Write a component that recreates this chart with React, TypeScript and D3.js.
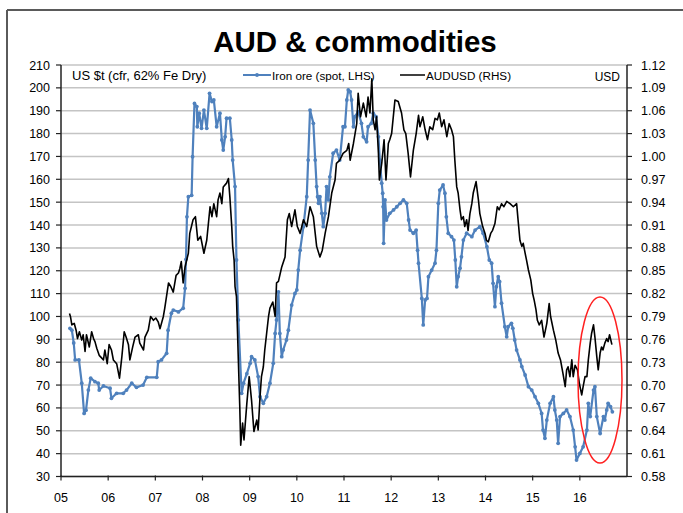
import React from "react";
import * as d3 from "d3";

const title = "AUD & commodities";
const xTickLabels = ["05", "06", "07", "08", "09", "10", "11", "12", "13", "14", "15", "16"];
const leftTicks = [30, 40, 50, 60, 70, 80, 90, 100, 110, 120, 130, 140, 150, 160, 170, 180, 190, 200, 210];
const rightTicks = [0.58, 0.61, 0.64, 0.67, 0.70, 0.73, 0.76, 0.79, 0.82, 0.85, 0.88, 0.91, 0.94, 0.97, 1.0, 1.03, 1.06, 1.09, 1.12];

const ironDates = [
  2005.19, 2005.23, 2005.27, 2005.30, 2005.38, 2005.44, 2005.49, 2005.53, 2005.58, 2005.63, 2005.72, 2005.79, 2005.81, 2005.90,
  2006.04, 2006.07, 2006.18, 2006.32, 2006.39, 2006.50, 2006.60, 2006.74, 2006.82, 2007.03, 2007.06, 2007.13, 2007.24, 2007.27,
  2007.34, 2007.38, 2007.49, 2007.59, 2007.63, 2007.65, 2007.67, 2007.70, 2007.77, 2007.79, 2007.83, 2007.88, 2007.89, 2007.93,
  2007.98, 2008.03, 2008.09, 2008.15, 2008.20, 2008.24, 2008.30, 2008.37, 2008.41, 2008.44, 2008.48, 2008.51, 2008.58, 2008.62,
  2008.64, 2008.69, 2008.72, 2008.76, 2008.83, 2008.87, 2008.94, 2009.01, 2009.04, 2009.11, 2009.18, 2009.22, 2009.29, 2009.36,
  2009.43, 2009.50, 2009.54, 2009.57, 2009.61, 2009.64, 2009.68, 2009.71, 2009.78, 2009.82, 2009.89, 2009.96, 2010.00, 2010.03,
  2010.07, 2010.14, 2010.21, 2010.24, 2010.28, 2010.35, 2010.39, 2010.42, 2010.44, 2010.46, 2010.49, 2010.53, 2010.56, 2010.60,
  2010.63, 2010.67, 2010.70, 2010.77, 2010.84, 2010.91, 2010.98, 2011.02, 2011.06, 2011.09, 2011.13, 2011.16, 2011.20, 2011.23,
  2011.30, 2011.37, 2011.41, 2011.48, 2011.51, 2011.58, 2011.62, 2011.68, 2011.73, 2011.76, 2011.80, 2011.82, 2011.83, 2011.84,
  2011.87, 2011.90, 2011.97, 2012.05, 2012.12, 2012.19, 2012.26, 2012.33, 2012.37, 2012.40, 2012.47, 2012.53, 2012.56, 2012.58,
  2012.65, 2012.68, 2012.72, 2012.76, 2012.79, 2012.86, 2012.93, 2012.96, 2013.00, 2013.03, 2013.10, 2013.14, 2013.17, 2013.21,
  2013.28, 2013.33, 2013.36, 2013.39, 2013.42, 2013.46, 2013.49, 2013.53, 2013.60, 2013.71, 2013.78, 2013.88, 2013.95, 2014.03,
  2014.08, 2014.13, 2014.16, 2014.20, 2014.23, 2014.27, 2014.30, 2014.34, 2014.41, 2014.45, 2014.48, 2014.55, 2014.58, 2014.62,
  2014.66, 2014.73, 2014.77, 2014.84, 2014.91, 2014.98, 2015.05, 2015.12, 2015.19, 2015.22, 2015.26, 2015.30, 2015.37, 2015.44,
  2015.47, 2015.51, 2015.54, 2015.58, 2015.65, 2015.72, 2015.79, 2015.86, 2015.90, 2015.93, 2016.00, 2016.07, 2016.15, 2016.18,
  2016.22, 2016.29, 2016.32, 2016.36, 2016.43, 2016.50, 2016.53, 2016.57, 2016.60, 2016.65, 2016.69,
];
const ironValues = [
  94.8, 94, 88.4, 81, 81, 70.8, 57.6, 59, 67.8, 73, 71.5, 70.8, 67.8, 69.6,
  68.6, 64.2, 66.4, 66.4, 67.8, 70.8, 69, 70, 73.4, 73.4, 80.2, 81, 83.9, 94,
  101.4, 102.8, 102, 103.6, 112.3, 125, 143.6, 152.4, 153, 169.9, 193.2, 191.8, 183, 188.9,
  182.3, 190.3, 182.3, 197.6, 194, 194.7, 183, 188.9, 177.2, 172.8, 178.6, 186.7, 186.7, 177.2,
  168.4, 156.8, 124.7, 98.5, 66.4, 70.8, 75, 79.5, 82.4, 81, 73.7, 64.9, 62, 64.9,
  70.8, 79.5, 92.6, 98.5, 110.8, 92.6, 82.4, 85.3, 89.7, 94, 105, 110.1, 111.6, 120.3,
  129, 139.3, 152.4, 168.4, 190.3, 184.5, 168.4, 156.8, 152.4, 149.5, 152.4, 145.1, 139.3, 145.1,
  156.8, 151, 161.1, 171.4, 172.8, 168.4, 183, 183, 194.7, 199.1, 198.3, 194.7, 183, 187.4,
  189.6, 184.5, 178.6, 176.4, 183, 184.5, 188.9, 187.4, 178.6, 168.4, 158.3, 153.9, 148, 132,
  151, 142.2, 145.1, 146.6, 148, 149.5, 151, 149.5, 142.2, 137.8, 136.4, 137.8, 129, 123.3,
  107.9, 96.3, 107.2, 107.9, 117.4, 120.3, 123.3, 129, 149.5, 155.3, 157.5, 153.9, 143.6, 136.4,
  134.9, 133.4, 124.7, 113, 117.4, 121.1, 126.1, 133.4, 136.4, 134.9, 137.8, 139.3, 136.4, 130.5,
  124.7, 123.3, 114.5, 104.3, 113, 117.4, 115.2, 105.8, 95.5, 91.1, 95.5, 97, 94.8, 89.7,
  85.3, 81, 78.1, 74.4, 69.3, 67.8, 64.9, 62, 57.6, 50.3, 46.7, 54.7, 62, 64.9,
  59.1, 54.7, 44.5, 56.2, 57.6, 59.1, 56.2, 50.3, 43, 37.2, 40.1, 43, 50.3, 62,
  56.2, 67.8, 69.3, 56.2, 48.8, 56.2, 54.7, 59.1, 62, 60.6, 58.3,
];

const audDates = [
  2005.18, 2005.20, 2005.23, 2005.28, 2005.32, 2005.35, 2005.39, 2005.44, 2005.47, 2005.51, 2005.54, 2005.60, 2005.65, 2005.69,
  2005.72, 2005.76, 2005.81, 2005.84, 2005.90, 2005.93, 2005.98, 2006.02, 2006.07, 2006.11, 2006.18, 2006.24, 2006.29, 2006.34,
  2006.38, 2006.43, 2006.46, 2006.52, 2006.57, 2006.64, 2006.67, 2006.75, 2006.78, 2006.85, 2006.90, 2006.96, 2007.01, 2007.06,
  2007.10, 2007.17, 2007.20, 2007.28, 2007.33, 2007.38, 2007.44, 2007.49, 2007.52, 2007.55, 2007.59, 2007.63, 2007.70, 2007.73,
  2007.80, 2007.85, 2007.90, 2007.96, 2008.03, 2008.09, 2008.16, 2008.20, 2008.24, 2008.30, 2008.33, 2008.37, 2008.41, 2008.44,
  2008.51, 2008.55, 2008.58, 2008.62, 2008.64, 2008.67, 2008.69, 2008.72, 2008.76, 2008.79, 2008.81, 2008.85, 2008.88, 2008.94,
  2008.99, 2009.04, 2009.09, 2009.15, 2009.18, 2009.22, 2009.25, 2009.29, 2009.32, 2009.36, 2009.40, 2009.43, 2009.49, 2009.54,
  2009.57, 2009.61, 2009.68, 2009.75, 2009.80, 2009.84, 2009.89, 2009.96, 2010.01, 2010.07, 2010.14, 2010.21, 2010.28, 2010.35,
  2010.42, 2010.49, 2010.54, 2010.60, 2010.67, 2010.74, 2010.81, 2010.84, 2010.91, 2010.98, 2011.06, 2011.10, 2011.13, 2011.20,
  2011.27, 2011.30, 2011.35, 2011.41, 2011.47, 2011.51, 2011.55, 2011.59, 2011.62, 2011.66, 2011.69, 2011.73, 2011.75, 2011.80,
  2011.85, 2011.89, 2011.94, 2011.97, 2012.01, 2012.08, 2012.15, 2012.22, 2012.27, 2012.31, 2012.36, 2012.41, 2012.47, 2012.53,
  2012.58, 2012.61, 2012.67, 2012.72, 2012.77, 2012.82, 2012.88, 2012.93, 2012.98, 2013.02, 2013.07, 2013.12, 2013.18, 2013.23,
  2013.28, 2013.32, 2013.35, 2013.39, 2013.42, 2013.46, 2013.49, 2013.53, 2013.56, 2013.60, 2013.63, 2013.67, 2013.71, 2013.74,
  2013.80, 2013.85, 2013.88, 2013.94, 2013.99, 2014.02, 2014.06, 2014.11, 2014.15, 2014.20, 2014.25, 2014.29, 2014.34, 2014.39,
  2014.45, 2014.52, 2014.59, 2014.66, 2014.69, 2014.73, 2014.77, 2014.80, 2014.84, 2014.87, 2014.91, 2014.96, 2015.00, 2015.03,
  2015.07, 2015.10, 2015.14, 2015.19, 2015.24, 2015.30, 2015.35, 2015.38, 2015.44, 2015.49, 2015.54, 2015.59, 2015.64, 2015.69,
  2015.72, 2015.75, 2015.79, 2015.83, 2015.86, 2015.90, 2015.95, 2015.99, 2016.04, 2016.07, 2016.11, 2016.15, 2016.18, 2016.22,
  2016.25, 2016.29, 2016.32, 2016.36, 2016.39, 2016.43, 2016.46, 2016.49, 2016.53, 2016.57, 2016.60, 2016.63, 2016.68,
];
const audValues = [
  0.794, 0.790, 0.779, 0.781, 0.772, 0.761, 0.770, 0.759, 0.766, 0.744, 0.766, 0.750, 0.770, 0.761,
  0.757, 0.748, 0.739, 0.737, 0.733, 0.746, 0.728, 0.753, 0.746, 0.733, 0.728, 0.709, 0.737, 0.770,
  0.763, 0.753, 0.733, 0.750, 0.763, 0.766, 0.755, 0.746, 0.763, 0.772, 0.790, 0.785, 0.788, 0.783,
  0.774, 0.790, 0.801, 0.834, 0.829, 0.822, 0.844, 0.847, 0.853, 0.862, 0.834, 0.855, 0.873, 0.899,
  0.917, 0.921, 0.890, 0.895, 0.873, 0.890, 0.934, 0.921, 0.938, 0.921, 0.943, 0.952, 0.938, 0.960,
  0.965, 0.971, 0.947, 0.908, 0.882, 0.864, 0.829, 0.816, 0.733, 0.672, 0.621, 0.650, 0.628, 0.676,
  0.711, 0.680, 0.639, 0.654, 0.641, 0.685, 0.711, 0.724, 0.746, 0.768, 0.790, 0.801, 0.809, 0.790,
  0.834, 0.836, 0.855, 0.868, 0.917, 0.925, 0.908, 0.930, 0.908, 0.899, 0.917, 0.908, 0.934, 0.921,
  0.882, 0.868, 0.877, 0.899, 0.921, 0.952, 0.969, 0.991, 0.995, 1.004, 1.008, 1.017, 0.995, 1.017,
  1.043, 1.083, 1.052, 1.070, 1.052, 1.078, 1.057, 1.102, 1.048, 1.035, 1.052, 1.004, 0.969, 0.991,
  1.022, 0.969, 1.017, 1.022, 1.030, 1.074, 1.072, 1.057, 1.035, 1.030, 1.004, 0.973, 1.008, 1.030,
  1.054, 1.039, 1.052, 1.035, 1.022, 1.039, 1.035, 1.050, 1.048, 1.057, 1.039, 1.048, 1.026, 1.043,
  1.035, 1.026, 0.995, 0.960, 0.952, 0.930, 0.917, 0.921, 0.908, 0.917, 0.903, 0.925, 0.938, 0.952,
  0.967, 0.943, 0.925, 0.908, 0.899, 0.890, 0.888, 0.899, 0.903, 0.912, 0.934, 0.930, 0.938, 0.934,
  0.941, 0.938, 0.934, 0.938, 0.917, 0.890, 0.882, 0.886, 0.873, 0.864, 0.851, 0.838, 0.820, 0.812,
  0.799, 0.785, 0.779, 0.785, 0.763, 0.781, 0.807, 0.790, 0.772, 0.759, 0.742, 0.733, 0.716, 0.698,
  0.720, 0.724, 0.711, 0.733, 0.711, 0.726, 0.720, 0.702, 0.687, 0.698, 0.711, 0.711, 0.733, 0.755,
  0.768, 0.779, 0.763, 0.737, 0.720, 0.742, 0.750, 0.746, 0.755, 0.761, 0.757, 0.766, 0.753,
];

const FONT = "Arial, 'Liberation Sans', sans-serif";
const BLUE = "#4f81bd";

export default function App() {
  const left = 61, right = 627, top = 65, bottom = 476.5;
  const x = d3.scaleLinear().domain([2005, 2017]).range([left, right]);
  const yL = d3.scaleLinear().domain([30, 210]).range([bottom, top]);
  const yR = d3.scaleLinear().domain([0.58, 1.12]).range([bottom, top]);

  const iron = ironDates.map((d, i) => [d, ironValues[i]] as [number, number]);
  const aud = audDates.map((d, i) => [d, audValues[i]] as [number, number]);

  const ironLine = d3.line<[number, number]>().x(d => x(d[0])).y(d => yL(d[1]));
  const audLine = d3.line<[number, number]>().x(d => x(d[0])).y(d => yR(d[1]));

  return (
    <svg width={683} height={513} style={{ position: "absolute", left: 0, top: 0, background: "#fff" }} fontFamily={FONT}>
      <rect x={0} y={0} width={683} height={513} fill="#fff" />
      {/* frame */}
      <line x1={7} x2={683} y1={10} y2={10} stroke="#5a5a5a" strokeWidth={2} />
      <line x1={7} x2={7} y1={10} y2={513} stroke="#5a5a5a" strokeWidth={2} />

      <text x={355} y={52} textAnchor="middle" fontSize={29.5} fontWeight="bold" fill="#000">{title}</text>

      {/* gridlines */}
      {leftTicks.map(t => (
        <line key={"g" + t} x1={left} x2={right} y1={yL(t)} y2={yL(t)} stroke="#c4c4c4" strokeWidth={1.5} />
      ))}

      {/* series */}
      <path d={ironLine(iron) || ""} fill="none" stroke={BLUE} strokeWidth={2.2} strokeLinejoin="round" />
      {iron.map((d, i) => (
        <circle key={"m" + i} cx={x(d[0])} cy={yL(d[1])} r={1.9} fill={BLUE} />
      ))}
      <path d={audLine(aud) || ""} fill="none" stroke="#000" strokeWidth={1.6} strokeLinejoin="round" />

      {/* axes */}
      <line x1={left} x2={left} y1={top} y2={bottom} stroke="#222" strokeWidth={1.5} />
      <line x1={right} x2={right} y1={top} y2={bottom} stroke="#222" strokeWidth={1.5} />
      <line x1={left} x2={right} y1={bottom} y2={bottom} stroke="#222" strokeWidth={1.5} />
      {leftTicks.map(t => (
        <g key={"l" + t}>
          <line x1={left - 5} x2={left} y1={yL(t)} y2={yL(t)} stroke="#222" strokeWidth={1.2} />
          <text x={50} y={yL(t) + 4.5} textAnchor="end" fontSize={12.5} fill="#000">{t}</text>
        </g>
      ))}
      {rightTicks.map(t => (
        <g key={"r" + t}>
          <line x1={right} x2={right + 5} y1={yR(t)} y2={yR(t)} stroke="#222" strokeWidth={1.2} />
          <text x={641} y={yR(t) + 4.5} textAnchor="start" fontSize={12.5} fill="#000">{t.toFixed(2)}</text>
        </g>
      ))}
      {xTickLabels.map((lab, i) => (
        <g key={"x" + lab}>
          <line x1={x(2005 + i)} x2={x(2005 + i)} y1={bottom - 1} y2={bottom + 4} stroke="#222" strokeWidth={1.2} />
          <text x={x(2005 + i)} y={502} textAnchor="middle" fontSize={12.5} fill="#000">{lab}</text>
        </g>
      ))}

      {/* legend / labels */}
      <text x={72} y={80} fontSize={13} fill="#000">US $t (cfr, 62% Fe Dry)</text>
      <line x1={243} x2={271} y1={75} y2={75} stroke={BLUE} strokeWidth={2} />
      <circle cx={257} cy={75} r={1.9} fill={BLUE} />
      <text x={272} y={80} fontSize={11.7} fill="#000">Iron ore (spot, LHS)</text>
      <line x1={400} x2={425} y1={75} y2={75} stroke="#000" strokeWidth={1.5} />
      <text x={426} y={80} fontSize={11.7} fill="#000">AUDUSD (RHS)</text>
      <text x={620} y={81} textAnchor="end" fontSize={12} fill="#000">USD</text>

      {/* highlight ellipse */}
      <ellipse cx={600} cy={380} rx={22} ry={83} fill="none" stroke="#ff2020" strokeWidth={1.5} />
    </svg>
  );
}
